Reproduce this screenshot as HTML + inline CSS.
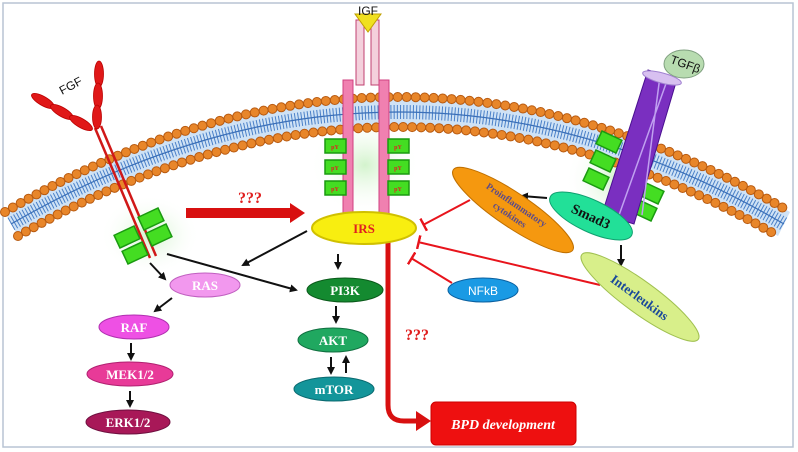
<!DOCTYPE html>
<html><head><meta charset="utf-8"><style>
html,body{margin:0;padding:0;background:#fff;width:798px;height:452px;overflow:hidden}
svg{display:block}
text{font-family:"Liberation Serif",serif;font-weight:bold}
text.sans{font-family:"Liberation Sans",sans-serif;font-weight:normal}
</style></head><body>
<svg width="798" height="452" viewBox="0 0 798 452">
<defs>
<marker id="ah" markerWidth="8" markerHeight="8" refX="6" refY="4" orient="auto" markerUnits="userSpaceOnUse"><path d="M0,0 L8,4 L0,8 Z" fill="#111"/></marker>
<marker id="tb" markerWidth="4" markerHeight="14" refX="2" refY="7" orient="auto" markerUnits="userSpaceOnUse"><rect x="0" y="0" width="2.5" height="14" fill="#e8141c"/></marker>
<radialGradient id="glow"><stop offset="0" stop-color="#c8f0c0" stop-opacity="0.8"/><stop offset="1" stop-color="#fff" stop-opacity="0"/></radialGradient>
</defs>
<rect x="3" y="3" width="790" height="444" fill="#fff" stroke="#b8c4d4" stroke-width="1.5"/>
<ellipse cx="150" cy="235" rx="50" ry="40" fill="url(#glow)"/>
<ellipse cx="365" cy="165" rx="55" ry="50" fill="url(#glow)"/>
<ellipse cx="615" cy="180" rx="50" ry="50" fill="url(#glow)"/>
<g>
<path d="M5,212 Q400,-18 790,212 L778,236 Q400,18 18,236 Z" fill="#cfe2f5"/>
<path d="M11,224 Q400,0 784,224" fill="none" stroke="#4a80c8" stroke-width="14" stroke-dasharray="1 2.2"/>
<path d="M11,224 Q400,0 784,224" fill="none" stroke="#3a6fb8" stroke-width="1.2"/>
<path d="M5,212 Q400,-18 790,212" fill="none" stroke="#b85a10" stroke-width="10" stroke-linecap="round" stroke-dasharray="0 9"/>
<path d="M5,212 Q400,-18 790,212" fill="none" stroke="#e8862a" stroke-width="8" stroke-linecap="round" stroke-dasharray="0 9"/>
<path d="M18,236 Q400,18 778,236" fill="none" stroke="#b85a10" stroke-width="10" stroke-linecap="round" stroke-dasharray="0 9"/>
<path d="M18,236 Q400,18 778,236" fill="none" stroke="#e8862a" stroke-width="8" stroke-linecap="round" stroke-dasharray="0 9"/>
</g>
<g>
<line x1="95" y1="128" x2="150" y2="258" stroke="#d01818" stroke-width="2.5"/>
<line x1="101" y1="126" x2="156" y2="256" stroke="#d01818" stroke-width="2.5"/>
<g fill="#e01818" stroke="#b00" stroke-width="0.8"><ellipse cx="43" cy="101" rx="13" ry="4.5" transform="rotate(30 43 101)"/><ellipse cx="62" cy="112" rx="13" ry="4.5" transform="rotate(30 62 112)"/><ellipse cx="81" cy="123" rx="13" ry="4.5" transform="rotate(30 81 123)"/><ellipse cx="99" cy="74" rx="4.5" ry="13"/><ellipse cx="98" cy="96" rx="4.5" ry="13"/><ellipse cx="97" cy="117" rx="4.5" ry="12"/></g>
<g fill="#44dd22" stroke="#1a9a10" stroke-width="1.5">
<rect x="140" y="212" width="22" height="14" transform="rotate(-25 151 219)"/><rect x="148" y="228" width="22" height="14" transform="rotate(-25 159 235)"/><rect x="116" y="230" width="22" height="14" transform="rotate(-25 127 237)"/><rect x="124" y="246" width="22" height="14" transform="rotate(-25 135 253)"/></g>
<text class="sans" x="62" y="95" font-size="12" transform="rotate(-28 62 95)" fill="#111">FGF</text>
</g>
<g>
<rect x="356" y="20" width="8" height="65" fill="#f4d0dc" stroke="#c04070"/>
<rect x="371" y="20" width="8" height="65" fill="#f4d0dc" stroke="#c04070"/>
<rect x="343" y="80" width="10" height="135" fill="#f080b0" stroke="#d04080"/>
<rect x="379" y="80" width="10" height="135" fill="#f080b0" stroke="#d04080"/>
<path d="M355,14 L381,14 L368,32 Z" fill="#f0e020" stroke="#c0a000"/>
<text class="sans" x="368" y="15" text-anchor="middle" font-size="12" fill="#111">IGF</text>
<g fill="#44dd22" stroke="#1a9a10" stroke-width="1.5">
<rect x="325" y="139" width="21" height="14"/><rect x="325" y="160" width="21" height="14"/><rect x="325" y="181" width="21" height="14"/>
<rect x="388" y="139" width="21" height="14"/><rect x="388" y="160" width="21" height="14"/><rect x="388" y="181" width="21" height="14"/></g>
<g font-size="6" fill="#e02020" text-anchor="middle"><text x="335" y="149">pY</text><text x="335" y="170">pY</text><text x="335" y="191">pY</text><text x="398" y="149">pY</text><text x="398" y="170">pY</text><text x="398" y="191">pY</text></g>
</g>
<g>
<g fill="#44dd22" stroke="#1a9a10" stroke-width="1.5">
<rect x="598" y="135" width="22" height="14" transform="rotate(25 609 142)"/><rect x="592" y="154" width="22" height="14" transform="rotate(25 603 161)"/><rect x="585" y="172" width="22" height="14" transform="rotate(25 596 179)"/><rect x="640" y="186" width="22" height="14" transform="rotate(25 651 193)"/><rect x="633" y="203" width="22" height="14" transform="rotate(25 644 210)"/></g>
<path d="M648,70 L677,79 L634,224 L602,214 Z" fill="#7a2fc0" stroke="#4a1090"/>
<path d="M660,76 L642,215 M668,78 L618,218" stroke="#c0a0f0" stroke-width="1.5"/>
<ellipse cx="662" cy="78" rx="20" ry="5" fill="#d8c0f0" stroke="#a080d0" transform="rotate(15 662 78)"/>
<ellipse cx="684" cy="64" rx="20" ry="14" fill="#b8dcb0" stroke="#80a080"/>
<text class="sans" x="684" y="68" text-anchor="middle" font-size="12" fill="#111" transform="rotate(20 684 68)">TGFβ</text>
</g>
<g stroke="#111" stroke-width="2" marker-end="url(#ah)">
<line x1="307" y1="231" x2="243" y2="265"/>
<line x1="167" y1="254" x2="296" y2="290"/>
<line x1="150" y1="263" x2="165" y2="279"/>
<line x1="172" y1="298" x2="155" y2="311"/>
<line x1="131" y1="343" x2="131" y2="359"/>
<line x1="130" y1="391" x2="130" y2="406"/>
<line x1="338" y1="254" x2="338" y2="268"/>
<line x1="336" y1="306" x2="336" y2="322"/>
<line x1="331" y1="357" x2="331" y2="373"/>
<line x1="346" y1="373" x2="346" y2="357"/>
<line x1="547" y1="198" x2="522" y2="196"/>
<line x1="621" y1="245" x2="621" y2="265"/>
</g>
<g stroke="#e8141c" stroke-width="2" fill="none" marker-end="url(#tb)">
<line x1="470" y1="200" x2="423" y2="225"/>
<line x1="600" y1="285" x2="418" y2="242"/>
<line x1="452" y1="283" x2="411" y2="258"/>
</g>
<path d="M186,208 L290,208 L290,203 L305,213 L290,223 L290,218 L186,218 Z" fill="#d81010"/>
<text x="250" y="203" text-anchor="middle" font-size="16" fill="#e02020">???</text>
<path d="M388,240 L388,405 Q388,421 404,421 L418,421" fill="none" stroke="#d81010" stroke-width="5"/>
<path d="M416,411 L431,421 L416,431 Z" fill="#d81010"/>
<text x="417" y="340" text-anchor="middle" font-size="16" fill="#e02020">???</text>
<rect x="431" y="402" width="145" height="43" rx="5" fill="#ee1010" stroke="#c00"/>
<text x="503" y="429" text-anchor="middle" font-size="14" font-style="italic" fill="#fff">BPD development</text>
<g><ellipse cx="364" cy="228" rx="52" ry="16" fill="#f8ee10" stroke="#d0c000" stroke-width="2"/><text x="364" y="233" text-anchor="middle" font-size="13" fill="#e02020">IRS</text></g>
<g><ellipse cx="205" cy="285" rx="35" ry="12" fill="#f298ee" stroke="#c060c0"/><text x="205" y="290" text-anchor="middle" font-size="13" fill="#fff">RAS</text></g>
<g><ellipse cx="134" cy="327" rx="35" ry="12" fill="#ee50e4" stroke="#b030b0"/><text x="134" y="332" text-anchor="middle" font-size="13" fill="#fff">RAF</text></g>
<g><ellipse cx="130" cy="374" rx="43" ry="12" fill="#e83a98" stroke="#b02070"/><text x="130" y="379" text-anchor="middle" font-size="13" fill="#fff">MEK1/2</text></g>
<g><ellipse cx="128" cy="422" rx="42" ry="12" fill="#a81858" stroke="#701040"/><text x="128" y="427" text-anchor="middle" font-size="13" fill="#fff">ERK1/2</text></g>
<g><ellipse cx="345" cy="290" rx="38" ry="12" fill="#148a30" stroke="#0a5a1a"/><text x="345" y="295" text-anchor="middle" font-size="13" fill="#fff">PI3K</text></g>
<g><ellipse cx="333" cy="340" rx="35" ry="12" fill="#20a860" stroke="#107040"/><text x="333" y="345" text-anchor="middle" font-size="13" fill="#fff">AKT</text></g>
<g><ellipse cx="334" cy="389" rx="40" ry="12" fill="#13959a" stroke="#0a6a70"/><text x="334" y="394" text-anchor="middle" font-size="13" fill="#fff">mTOR</text></g>
<g><ellipse cx="483" cy="290" rx="35" ry="12" fill="#1a9ae4" stroke="#0a60a0"/><text class="sans" x="483" y="295" text-anchor="middle" font-size="12" fill="#fff">NFkB</text></g>
<g transform="rotate(34 513 210)"><ellipse cx="513" cy="210" rx="72" ry="17" fill="#f5980f" stroke="#c07000"/><text x="513" y="207" text-anchor="middle" font-size="9.5" fill="#5a4a8a">Proinflammatory</text><text x="513" y="219" text-anchor="middle" font-size="9.5" fill="#5a4a8a">cytokines</text></g>
<g transform="rotate(25 591 216)"><ellipse cx="591" cy="216" rx="45" ry="16" fill="#22e098" stroke="#10a070"/><text x="591" y="221" text-anchor="middle" font-size="14" fill="#111">Smad3</text></g>
<g transform="rotate(36 640 297)"><ellipse cx="640" cy="297" rx="72" ry="16" fill="#d8ef8a" stroke="#a0c050"/><text x="640" y="302" text-anchor="middle" font-size="13" fill="#1a4a9a">Interleukins</text></g>
</svg>
</body></html>
